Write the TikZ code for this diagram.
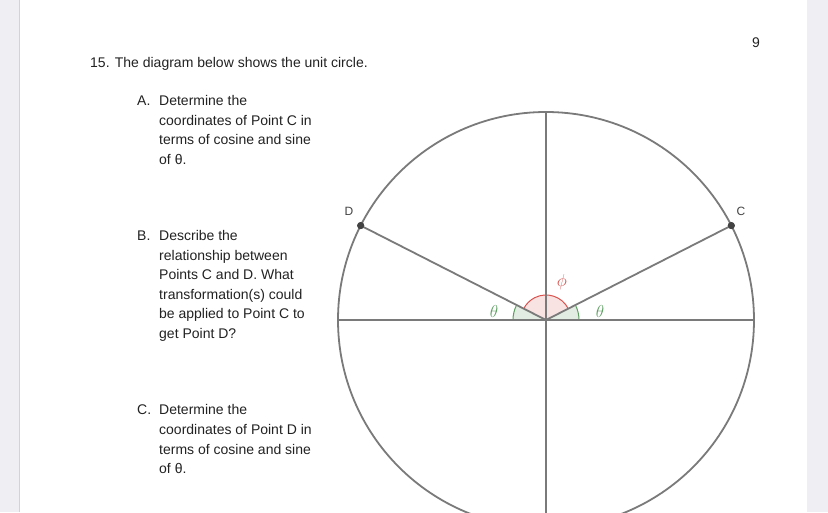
\documentclass[tikz,border=0pt]{standalone}
\usepackage{fontspec}
\setmainfont{Liberation Sans}
\usetikzlibrary{calc}
\definecolor{margin}{HTML}{EEEEF3}
\definecolor{edge}{HTML}{D2D2D8}
\definecolor{ink}{HTML}{222222}
\definecolor{geo}{HTML}{7A7A7A}
\definecolor{thgreen}{HTML}{5E9E62}
\definecolor{thfill}{HTML}{E2ECE2}
\definecolor{phred}{HTML}{D9534F}
\definecolor{phfill}{HTML}{F8E2E2}
\begin{document}
\begin{tikzpicture}[x=1pt,y=1pt,
  txt/.style={anchor=base west,inner sep=0pt,text=ink,font=\fontsize{14}{19.5}\selectfont},
  ptlbl/.style={inner sep=0pt,text=ink!85,font=\fontsize{12}{14}\selectfont},
  anglbl/.style={inner sep=0pt,font=\fontsize{17}{19}\selectfont},
  geoline/.style={draw=geo,line width=1.8pt},
  dot/.style={circle,fill=ink!85,inner sep=0pt,minimum size=7pt}]
\useasboundingbox (0,0) rectangle (828,512);
\clip (0,0) rectangle (828,512);
% page and margins
\fill[margin] (0,0) rectangle (828,512);
\fill[white] (20,-5) rectangle (807,517);
\draw[edge,line width=1pt] (19.5,0) -- (19.5,512);
% heading and page number
\node[txt] (num) at (752,464) {9};
\node[txt] (head) at (90,444) {15. The diagram below shows the unit circle.};
% question A
\node[txt] (qa) at (137,406) {A.};
\foreach \t [count=\i from 0] in {Determine the,coordinates of Point C in,terms of cosine and sine,of θ.}
  \node[txt] (a\i) at (159,406-19.5*\i) {\t};
% question B
\node[txt] (qb) at (137,271) {B.};
\foreach \t [count=\i from 0] in {Describe the,relationship between,Points C and D. What,transformation(s) could,be applied to Point C to,get Point D?}
  \node[txt] (b\i) at (159,271-19.5*\i) {\t};
% question C
\node[txt] (qc) at (137,97) {C.};
\foreach \t [count=\i from 0] in {Determine the,coordinates of Point D in,terms of cosine and sine,of θ.}
  \node[txt] (c\i) at (159,97-19.5*\i) {\t};
% unit circle
\coordinate (O) at (546,192);
\coordinate (L) at (338,192);
\coordinate (R) at (754,192);
\coordinate (T) at (546,400);
\coordinate (B) at (546,-20);
% angle fills
\fill[thfill] (O) -- ++(0:33) arc[start angle=0,end angle=27,radius=33] -- cycle;
\fill[thfill] (O) -- ++(153:33) arc[start angle=153,end angle=180,radius=33] -- cycle;
\fill[phfill] (O) -- ++(27:25) arc[start angle=27,end angle=153,radius=25] -- cycle;
\draw[thgreen,line width=1pt] ($(O)+(0:33)$) arc[start angle=0,end angle=27,radius=33];
\draw[thgreen,line width=1pt] ($(O)+(153:33)$) arc[start angle=153,end angle=180,radius=33];
\draw[phred,line width=1pt] ($(O)+(27:25)$) arc[start angle=27,end angle=153,radius=25];
\draw[geo,line width=1.8pt] (O) circle[radius=208];
\draw[geoline] (L) -- (R);
\draw[geoline] (T) -- (B);
\node[dot] (C) at ($(O)+(27:208)$) {};
\node[dot] (D) at ($(O)+(153:208)$) {};
\draw[geoline] (O) -- (C.center);
\draw[geoline] (O) -- (D.center);
\node[dot] at (C) {};
\node[dot] at (D) {};
\node[ptlbl] (Cl) at (741,301) {C};
\node[ptlbl] (Dl) at (349,301) {D};
\node[anglbl,text=thgreen] (th1) at (494,200) {$\theta$};
\node[anglbl,text=thgreen] (th2) at (600,200) {$\theta$};
\node[anglbl,text=phred] (ph) at (562,230) {$\phi$};
\end{tikzpicture}
\end{document}
